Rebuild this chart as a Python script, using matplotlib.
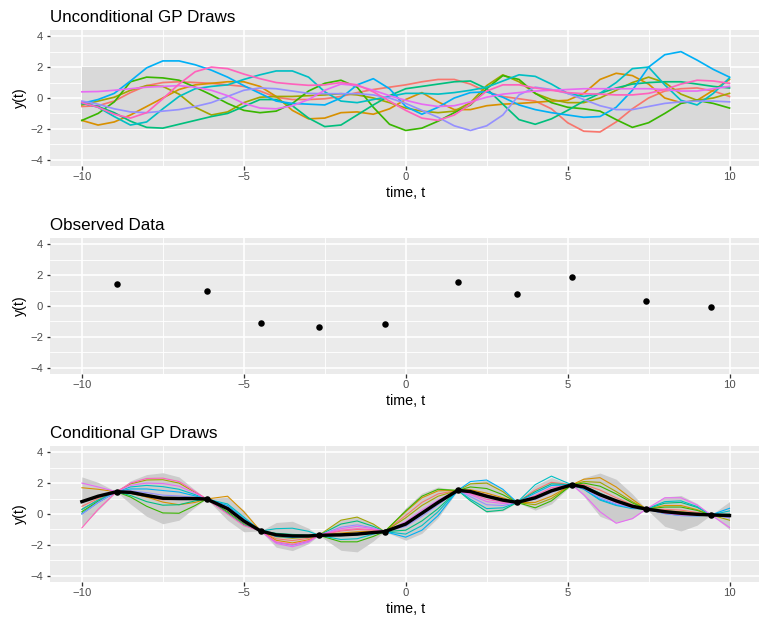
import numpy as np
import matplotlib
matplotlib.use('Agg')
import matplotlib.pyplot as plt

plt.rcParams['font.family'] = ['Liberation Sans', 'DejaVu Sans']

# ggplot default hue palette for 10 draws
drawColors = ['#F8766D', '#D89000', '#A3A500', '#39B600', '#00BF7D',
              '#00BFC4', '#00B0F6', '#9590FF', '#E76BF3', '#FF62BC']

# unconditional draws, read every 0.5 from -10 to 10
tGrid = np.arange(-10, 10.01, 0.5)
uncSalmon = [-0.55, -0.5, -0.2, 0.35, 0.8, 1.0, 1.05, 1.0, 0.95, 0.85, 0.75, 0.45, 0.05, -0.1, -0.1, -0.05, 0.1, 0.35, 0.55, 0.7,
             0.85, 1.05, 1.2, 1.2, 0.9, 0.4, 0.1, -0.05, -0.2, -0.7, -1.6, -2.15, -2.2, -1.55, -0.7, 0.0, 0.45, 0.6, 0.65, 0.45, 0.1]
uncOrange = [-1.45, -1.75, -1.55, -1.1, -0.55, 0.0, 0.55, 0.85, 0.95, 1.05, 1.05, 0.75, 0.1, -0.8, -1.35, -1.3, -0.95, -0.9, -1.05, -0.7,
             -0.1, 0.35, -0.25, -0.75, -0.75, -0.5, -0.4, -0.35, -0.28, -0.2, -0.15, 0.3, 1.2, 1.6, 1.45, 0.9, 0.0, -0.3, -0.15, 0.5, 1.2]
uncOlive = [-0.45, -0.2, 0.05, 0.5, 0.8, 0.75, 0.25, -0.6, -1.1, -0.9, -0.3, 0.05, 0.1, 0.1, 0.15, 0.2, 0.28, 0.2, 0.0, -0.3,
            -0.65, -0.85, -0.95, -0.85, -0.3, 0.8, 1.5, 1.05, 0.3, -0.1, -0.3, -0.3, 0.0, 0.5, 1.0, 1.35, 1.0, 0.25, -0.15, 0.0, 0.3]
uncGreen = [-1.45, -1.0, -0.25, 1.05, 1.35, 1.3, 1.15, 0.7, 0.2, -0.35, -0.8, -0.95, -0.85, -0.35, 0.45, 0.95, 1.15, 0.7, -0.6, -1.7,
            -2.1, -1.95, -1.5, -0.95, -0.45, 0.6, 1.45, 1.2, 0.3, -0.3, -0.6, -0.7, -0.85, -1.4, -1.9, -1.6, -1.0, -0.35, -0.15, -0.35, -0.65]
uncTeal = [-0.35, -0.55, -0.95, -1.5, -1.9, -1.95, -1.7, -1.45, -1.2, -1.0, -0.55, -0.1, -0.1, -0.5, -1.3, -1.85, -1.75, -1.1, -0.45, 0.15,
           0.6, 0.75, 0.9, 1.05, 1.1, 0.6, -0.4, -1.4, -1.7, -1.35, -0.8, -0.2, 0.3, 0.65, 0.9, 1.0, 1.05, 1.05, 0.9, 0.75, 0.65]
uncCyan = [-0.3, -0.6, -1.2, -1.75, -1.55, -0.7, 0.1, 0.6, 0.75, 0.85, 1.2, 1.5, 1.75, 1.75, 1.35, 0.4, -0.2, -0.3, -0.1, 0.1,
           0.3, 0.3, 0.25, 0.35, 0.5, 0.7, 1.1, 1.5, 1.4, 0.9, 0.3, 0.1, 0.3, 1.0, 1.9, 2.0, 0.85, -0.15, -0.45, 0.3, 1.3]
uncBlue = [-0.35, -0.1, 0.3, 1.1, 1.95, 2.4, 2.4, 2.15, 1.8, 1.35, 0.8, 0.3, -0.2, -0.35, -0.4, -0.45, 0.0, 0.85, 1.25, 0.6,
           -0.55, -1.05, -0.6, 0.0, 0.35, 0.4, 0.05, -0.45, -0.75, -0.95, -1.1, -1.25, -1.2, -0.6, 0.5, 2.0, 2.8, 3.0, 2.45, 1.85, 1.35]
uncLavender = [-0.2, -0.4, -0.7, -0.9, -0.95, -0.85, -0.75, -0.55, -0.3, 0.1, 0.5, 0.65, 0.6, 0.45, 0.3, 0.28, 0.28, 0.28, 0.2, 0.0,
               -0.35, -0.8, -1.25, -1.8, -2.1, -1.8, -1.1, 0.2, 0.7, 0.55, 0.3, -0.1, -0.5, -0.75, -0.75, -0.55, -0.35, -0.25, -0.2, -0.2, -0.25]
uncMagenta = [0.4, 0.42, 0.5, 0.6, 0.7, 0.75, 0.8, 0.7, 0.5, 0.15, -0.35, -0.65, -0.7, -0.5, -0.1, 0.5, 0.9, 0.8, 0.5, 0.15,
              -0.15, -0.4, -0.55, -0.5, -0.25, 0.05, 0.25, 0.35, 0.45, 0.5, 0.55, 0.6, 0.6, 0.6, 0.6, 0.6, 0.55, 0.45, 0.45, 0.6, 0.75]
uncPink = [-0.3, -0.6, -1.05, -1.3, -0.95, -0.05, 0.9, 1.7, 2.0, 1.9, 1.55, 1.25, 1.0, 0.9, 0.82, 0.85, 1.0, 0.85, 0.4, -0.2,
           -0.8, -1.3, -1.45, -1.1, -0.4, 0.45, 0.85, 0.85, 0.65, 0.5, 0.35, 0.28, 0.25, 0.2, 0.2, 0.3, 0.55, 0.9, 1.15, 1.1, 0.95]
uncDraws = [uncSalmon, uncOrange, uncOlive, uncGreen, uncTeal,
            uncCyan, uncBlue, uncLavender, uncMagenta, uncPink]

# observed data
obsT = [-8.93, -6.15, -4.48, -2.68, -0.65, 1.61, 3.44, 5.13, 7.43, 9.43]
obsY = [1.44, 0.97, -1.10, -1.38, -1.14, 1.53, 0.75, 1.89, 0.32, -0.06]

# conditional panel: grid, posterior mean, band half-width, draw offsets from mean
tCond = [-10, -9.5, -8.93, -8.5, -8, -7.5, -7, -6.5, -6.15, -5.5, -5, -4.48, -4, -3.5, -3, -2.68, -2, -1.5, -1, -0.65,
         0, 0.5, 1, 1.61, 2, 2.5, 3, 3.44, 4, 4.5, 5.13, 5.5, 6, 6.5, 7, 7.43, 8, 8.5, 9, 9.43, 10]
postMean = [0.8, 1.15, 1.44, 1.4, 1.2, 1.02, 1.0, 1.0, 0.97, 0.35, -0.45, -1.1, -1.35, -1.42, -1.42, -1.38, -1.35, -1.3, -1.2, -1.14,
            -0.65, 0.05, 0.75, 1.53, 1.45, 1.15, 0.9, 0.75, 1.05, 1.5, 1.89, 1.75, 1.25, 0.85, 0.5, 0.32, 0.15, 0.05, -0.02, -0.06, -0.1]
bandHalf = [1.6, 0.9, 0, 0.75, 1.35, 1.65, 1.4, 0.55, 0, 0.75, 0.7, 0, 0.8, 0.95, 0.5, 0, 1.0, 1.15, 0.55, 0,
            1.05, 1.3, 1.0, 0, 0.6, 1.05, 0.7, 0, 0.8, 0.85, 0, 0.6, 1.4, 1.4, 0.8, 0, 0.95, 1.15, 0.7, 0, 0.9]
offSalmon = [-0.3, -0.15, 0, -0.05, -0.1, -0.1, -0.05, 0.0, 0, -0.25, -0.2, 0, -0.25, -0.3, -0.15, 0, 0.25, 0.3, 0.15, 0,
             0.55, 0.7, 0.55, 0, 0.05, 0.08, 0.05, 0, 0.5, 0.55, 0, 0.15, 0.3, 0.2, 0.1, 0, 0.15, 0.2, 0.12, 0, 0.05]
offOrange = [0.9, 0.45, 0, -0.05, -0.1, -0.25, -0.4, -0.25, 0, 0.8, 0.6, 0, -0.35, -0.45, -0.25, 0, 0.12, 0.15, 0.08, 0,
             0.8, 1.0, 0.75, 0, 0.12, 0.2, 0.15, 0, -0.3, -0.35, 0, 0.5, 1.1, 0.9, 0.45, 0, 0.4, 0.5, 0.3, 0, -0.1]
offOlive = [-0.5, -0.25, 0, 0.55, 1.0, 1.2, 1.0, 0.4, 0, -0.1, -0.05, 0, -0.12, -0.15, -0.08, 0, 0.95, 1.1, 0.55, 0,
            0.4, 0.5, 0.4, 0, 0.5, 0.85, 0.55, 0, -0.45, -0.5, 0, 0.35, 0.8, 0.6, 0.3, 0, 0.05, 0.1, 0.05, 0, -0.3]
offGreen = [-0.65, -0.33, 0, -0.3, -0.7, -0.95, -0.95, -0.45, 0, -0.2, -0.15, 0, 0.05, 0.05, 0.02, 0, -0.45, -0.5, -0.25, 0,
            0.85, 1.1, 0.85, 0, 0.3, 0.5, 0.35, 0, -0.65, -0.65, 0, 0.25, 0.55, 0.45, 0.22, 0, 0.3, 0.4, 0.25, 0, 0.0]
offTeal = [-0.75, -0.38, 0, -0.2, -0.4, -0.45, -0.4, -0.15, 0, -0.3, -0.25, 0, 0.1, 0.1, 0.05, 0, 0.7, 0.85, 0.4, 0,
           -0.4, -0.5, -0.4, 0, -0.6, -1.0, -0.65, 0, 0.4, 0.45, 0, 0.05, 0.1, 0.0, 0.0, 0, 0.55, 0.7, 0.45, 0, 0.1]
offCyan = [-0.5, -0.25, 0, 0.35, 0.65, 0.75, 0.6, 0.25, 0, 0.3, 0.25, 0, 0.4, 0.5, 0.3, 0, -0.3, -0.3, -0.1, 0,
           -0.65, -0.8, -0.6, 0, -0.5, -0.8, -0.5, 0, 0.85, 0.95, 0, -0.15, -0.35, -0.3, -0.15, 0, 0.65, 0.8, 0.5, 0, 0.3]
offBlue = [-0.8, -0.4, 0, 0.22, 0.42, 0.5, 0.42, 0.17, 0, 0.2, 0.15, 0, -0.1, -0.1, -0.05, 0, -0.05, -0.05, -0.02, 0,
           -0.85, -1.1, -0.85, 0, 0.65, 1.05, 0.7, 0, 0.3, 0.35, 0, -0.12, -0.3, -0.25, -0.12, 0, -0.12, -0.15, -0.1, 0, 0.47]
offLavender = [-0.8, -0.4, 0, 0.1, 0.18, 0.2, 0.17, 0.07, 0, 0.1, 0.1, 0, -0.5, -0.6, -0.35, 0, 0.5, 0.6, 0.3, 0,
               -0.15, -0.2, -0.15, 0, -0.33, -0.55, -0.35, 0, -0.1, -0.1, 0, -0.1, -0.2, -0.2, -0.1, 0, -0.12, -0.15, -0.1, 0, -0.15]
offMagenta = [1.2, 0.6, 0, 0.45, 0.8, 0.95, 0.8, 0.35, 0, -0.1, -0.1, 0, -0.55, -0.7, -0.4, 0, 0.4, 0.5, 0.25, 0,
              0.15, 0.2, 0.15, 0, -0.2, -0.35, -0.22, 0, 0.0, 0.05, 0, -0.5, -1.1, -1.45, -0.8, 0, 0.9, 1.0, 0.6, 0, -0.77]
offPink = [-1.7, -0.85, 0, 0.6, 1.1, 1.3, 1.1, 0.45, 0, -0.35, -0.3, 0, -0.45, -0.55, -0.3, 0, 0.3, 0.35, 0.18, 0,
           0.05, 0.05, 0.03, 0, -0.12, -0.2, -0.13, 0, 0.15, 0.2, 0, 0.0, -0.05, -0.1, -0.05, 0, -0.08, -0.1, -0.05, 0, -0.05]
condOffsets = [offSalmon, offOrange, offOlive, offGreen, offTeal,
               offCyan, offBlue, offLavender, offMagenta, offPink]

W, H = 759, 618
fig = plt.figure(figsize=(W / 72, H / 72), dpi=72)

def panel(topPx, title):
    ax = fig.add_axes([49.5 / W, (H - topPx - 136) / H, 712.4 / W, 136 / H])
    ax.set_facecolor('#EBEBEB')
    for s in ax.spines.values():
        s.set_visible(False)
    ax.set_xlim(-11, 11)
    ax.set_ylim(-4.4, 4.4)
    ax.set_xticks([-10, -5, 0, 5, 10])
    ax.set_xticklabels(['\u221210', '\u22125', '0', '5', '10'])
    ax.set_yticks([-4, -2, 0, 2, 4])
    ax.set_yticklabels(['\u22124', '\u22122', '0', '2', '4'])
    ax.set_xticks([-7.5, -2.5, 2.5, 7.5], minor=True)
    ax.set_yticks([-3, -1, 1, 3], minor=True)
    ax.grid(which='major', color='white', linewidth=1.6)
    ax.grid(which='minor', color='white', linewidth=0.85)
    ax.set_axisbelow(True)
    ax.tick_params(which='major', length=3.5, width=1.3, color='#333333',
                   labelsize=11.3, labelcolor='#4D4D4D', pad=2.8)
    ax.tick_params(which='minor', length=0)
    ax.set_xlabel('time, t', fontsize=14.2, labelpad=3.5)
    ax.set_ylabel('y(t)', fontsize=14.2, labelpad=3.5)
    ax.set_title(title, loc='left', fontsize=17, pad=8)
    return ax

ax1 = panel(30, 'Unconditional GP Draws')
ax1.fill_between([-10, 10], [-2, -2], [2, 2], color='#D9D9D9', linewidth=0, zorder=1)
for vals, c in zip(uncDraws, drawColors):
    ax1.plot(tGrid, vals, color=c, linewidth=1.7, zorder=2)

ax2 = panel(238, 'Observed Data')
ax2.plot(obsT, obsY, 'o', color='black', markersize=6.5, markeredgewidth=0, zorder=3)

ax3 = panel(446, 'Conditional GP Draws')
meanArr = np.array(postMean)
bandArr = np.array(bandHalf)
ax3.fill_between(tCond, meanArr - bandArr, meanArr + bandArr, color='#CCCCCC', linewidth=0, zorder=1)
for offs, c in zip(condOffsets, drawColors):
    ax3.plot(tCond, meanArr + np.array(offs), color=c, linewidth=1.1, zorder=2)
ax3.plot(tCond, postMean, color='black', linewidth=3.4, zorder=3)
ax3.plot(obsT, obsY, 'o', color='black', markersize=6.5, markeredgewidth=0, zorder=4)

fig.savefig('out.png', dpi=72)
